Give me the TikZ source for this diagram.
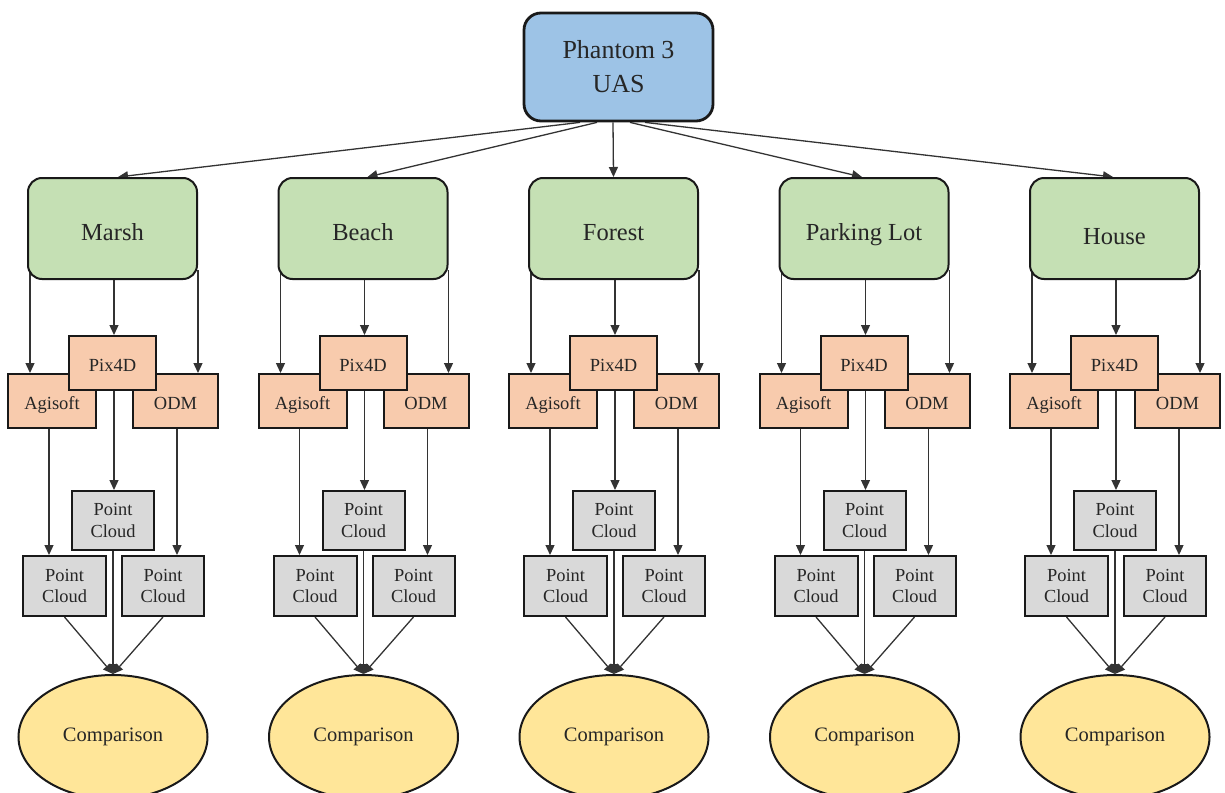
\documentclass[tikz,border=0pt]{standalone}
\usepackage{fontspec}
\setmainfont{Liberation Serif}
\usetikzlibrary{arrows.meta,shapes.geometric}
\pgfdeclarelayer{bg}
\pgfsetlayers{bg,main}
\definecolor{cBlue}{HTML}{9DC3E6}
\definecolor{cGreen}{HTML}{C5E0B4}
\definecolor{cOrange}{HTML}{F8CBAD}
\definecolor{cGray}{HTML}{D9D9D9}
\definecolor{cYellow}{HTML}{FFE699}
\definecolor{cLine}{HTML}{333333}
\definecolor{cText}{HTML}{262626}
\tikzset{
 box/.style={draw=black!90, line width=2pt, text=cText, inner sep=0pt},
 ph/.style={box, fill=cBlue, rounded corners=17pt, line width=2.8pt, minimum width=189pt, minimum height=108pt, align=center, font=\fontsize{26}{34}\selectfont},
 site/.style={box, fill=cGreen, rounded corners=14pt, minimum width=169pt, minimum height=101pt, font=\fontsize{24.5}{30}\selectfont, text depth=0pt},
 sw/.style={box, fill=cOrange, minimum height=54pt, font=\fontsize{18.5}{22}\selectfont, text height=16pt, text depth=0pt},
 pc/.style={box, fill=cGray, minimum width=82pt, align=center, font=\fontsize{18.4}{21.7}\selectfont},
 cmp/.style={box, ellipse, fill=cYellow, minimum width=189pt, minimum height=124pt, font=\fontsize{20.5}{24}\selectfont},
 arr/.style={draw=cLine, line width=1.3pt, -{Triangle[length=10pt,width=9pt]}},
}
\begin{document}
\begin{tikzpicture}[x=1pt,y=-1pt]
\useasboundingbox (0,0) rectangle (1225,792);
\clip (0,0) rectangle (1225,792);
\node[ph] (ph) at (618.5,67) {Phantom 3\\UAS};
\foreach \i/\lab/\sx/\tx/\th in {0/Marsh/-38.5/5.5/24.4, 1/Beach/-21.5/4.5/24.4, 2/Forest/-5.5/0/24.4, 3/Parking Lot/11.5/-2/24.4, 4/House/26.5/-1.5/32}{
  \pgfmathsetmacro\cx{112.5+250.5*\i}
  \node[site, text height=\th pt] (g\i) at (\cx,228.5) {\lab};
  \node[sw, minimum width=88pt] (ag\i) at (\cx-60.5,401) {Agisoft};
  \node[sw, minimum width=85pt] (odm\i) at (\cx+63,401) {ODM};
  \node[sw, minimum width=87pt] (pix\i) at (\cx,363) {Pix4D};
  \node[pc, minimum height=59pt] (pcm\i) at (\cx+0.5,520.5) {Point\\Cloud};
  \node[pc, minimum height=60pt, minimum width=83pt] (pcl\i) at (\cx-48,586) {Point\\Cloud};
  \node[pc, minimum height=60pt] (pcr\i) at (\cx+50.5,586) {Point\\Cloud};
  \node[cmp] (cmp\i) at (\cx+0.5,737) {Comparison};
  \begin{pgfonlayer}{bg}
    \draw[arr] ([xshift=\sx]ph.south) -- ([xshift=\tx]g\i.north);
    \draw[arr] ([xshift=-82.5,yshift=10]g\i.south) -- ([xshift=-22]ag\i.north);
    \draw[arr] ([xshift=1.5]g\i.center) -- ([xshift=1.5]pix\i.north);
    \draw[arr] ([xshift=85.5,yshift=10]g\i.south) -- ([xshift=22.5]odm\i.north);
    \draw[arr] ([xshift=-3]ag\i.south) -- ([xshift=-15.5]pcl\i.north);
    \draw[arr] ([xshift=1.5]pix\i.south) -- ([xshift=1]pcm\i.north);
    \draw[arr] ([xshift=1.5]odm\i.south) -- ([xshift=14]pcr\i.north);
    \draw[arr] (pcl\i.south) -- (cmp\i.north);
    \draw[arr] (pcm\i.south) -- (cmp\i.north);
    \draw[arr] (pcr\i.south) -- (cmp\i.north);
  \end{pgfonlayer}
}
\end{tikzpicture}
\end{document}
